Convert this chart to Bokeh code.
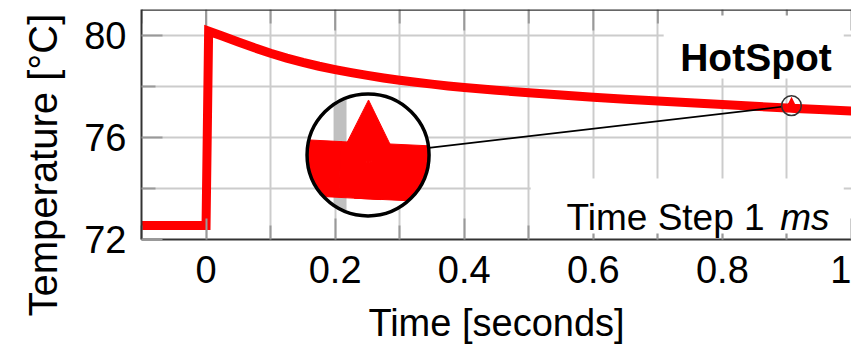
import math

from bokeh.plotting import figure
from bokeh.models import Range1d, FixedTicker, BoxAnnotation, Label, Title, Span
from bokeh.embed import file_html
from bokeh.resources import INLINE

# ---- hotspot temperature trace (1 ms time step) ----
time_s = [-0.1, 0.0, 0.004, 0.025, 0.05, 0.075, 0.1, 0.125, 0.15, 0.175, 0.2,
          0.225, 0.25, 0.275, 0.3, 0.325, 0.35, 0.375, 0.4, 0.45, 0.5, 0.55,
          0.6, 0.65, 0.7, 0.75, 0.8, 0.85, 0.9, 0.906, 0.907, 0.908, 0.95, 1.0]
temp_c = [72.55, 72.55, 80.15, 79.96, 79.73, 79.50, 79.29, 79.10, 78.93, 78.78, 78.65,
          78.53, 78.42, 78.32, 78.23, 78.15, 78.08, 78.01, 77.95, 77.84, 77.74, 77.65,
          77.57, 77.49, 77.42, 77.35, 77.28, 77.21, 77.145, 77.137, 77.187, 77.135, 77.085, 77.03]

x_major = [0.0, 0.2, 0.4, 0.6, 0.8, 1.0]
x_major_labels = ["0", "0.2", "0.4", "0.6", "0.8", "1"]
x_minor = [-0.1, 0.1, 0.3, 0.5, 0.7, 0.9]
y_major = [72, 76, 80]
y_major_labels = ["72", "76", "80"]
y_minor = [74, 78]

FONT = "Liberation Sans"
RED = "#ff0000"
GRID = "#cccccc"
TICK = "#999999"
FRAME = "#333333"
GRID_W = 2
LINE_W = 9
MAJOR_TICK = 21
MINOR_TICK = 14

X0, X1 = -0.1, 1.0
Y0, Y1 = 72.0, 81.0
FW, FH = 710, 230

p = figure(frame_width=FW, frame_height=FH,
           x_range=Range1d(X0, X1), y_range=Range1d(Y0, Y1),
           output_backend="svg", toolbar_location=None,
           min_border_left=141, min_border_right=0,
           min_border_top=9, min_border_bottom=108,
           background_fill_color="white", border_fill_color="white")

# the plot box continues past the right edge, so only three sides are drawn
p.outline_line_color = None

xt = FixedTicker(ticks=x_major, minor_ticks=x_minor)
yt = FixedTicker(ticks=y_major, minor_ticks=y_minor)


def style_axis(ax, ticker):
    ax.ticker = ticker
    ax.axis_line_color = FRAME
    ax.axis_line_width = 2
    ax.major_tick_in = MAJOR_TICK
    ax.major_tick_out = 0
    ax.minor_tick_in = MINOR_TICK
    ax.minor_tick_out = 0
    ax.major_tick_line_color = TICK
    ax.minor_tick_line_color = TICK
    ax.major_tick_line_width = 2
    ax.minor_tick_line_width = 2
    ax.major_label_text_font = FONT
    ax.major_label_text_font_size = "38px"
    ax.major_label_text_color = "black"


style_axis(p.xaxis[0], xt)
style_axis(p.yaxis[0], yt)
p.xaxis[0].major_label_overrides = dict(zip(x_major, x_major_labels))
p.yaxis[0].major_label_overrides = dict(zip(y_major, y_major_labels))
p.xaxis[0].major_label_standoff = 16
p.yaxis[0].major_label_standoff = 15
p.yaxis[0].axis_label_standoff = 0

p.xaxis[0].axis_label = "Time [seconds]"
p.xaxis[0].axis_label_text_font = FONT
p.xaxis[0].axis_label_text_font_size = "38px"
p.xaxis[0].axis_label_text_font_style = "normal"
p.xaxis[0].axis_label_text_color = "black"
p.xaxis[0].axis_label_standoff = 16

# vertical axis title, shifted down along the axis
p.add_layout(Title(text="Temperature [°C]", align="left", vertical_align="bottom",
                   offset=-77, standoff=34,
                   text_font=FONT, text_font_size="40px", text_font_style="normal",
                   text_color="black"), "left")

for g, tk in ((p.xgrid[0], xt), (p.ygrid[0], yt)):
    g.ticker = tk
    g.grid_line_color = GRID
    g.grid_line_width = GRID_W
    g.minor_grid_line_color = GRID
    g.minor_grid_line_width = GRID_W

# top edge of the plot box
p.add_layout(Span(location=Y1, dimension="width", line_color=FRAME, line_width=2.5))

sx = FW / (X1 - X0)
sy = FH / (Y1 - Y0)

# inward ticks along the top edge
top_x = x_major + x_minor
top_len = [MAJOR_TICK] * len(x_major) + [MINOR_TICK] * len(x_minor)
p.segment(x0=top_x, y0=[Y1] * len(top_x), x1=top_x,
          y1=[Y1 - L / sy for L in top_len], line_color=TICK, line_width=2)

# main trace
p.line(time_s, temp_c, line_color=RED, line_width=LINE_W,
       line_join="miter", line_cap="butt")

# ---- magnified view of the glitch ----
MAG = 6.2
R_IN = 61.0                  # radius of the magnifier, px
SPY_T, SPY_TEMP = 0.907, 77.237
INSET_T, INSET_TEMP = 0.251, 75.31


def to_local(t, temp):
    return (MAG * (t - SPY_T) * sx, MAG * (temp - SPY_TEMP) * sy)


def to_data(X, Y):
    return (INSET_T + X / sx, INSET_TEMP + Y / sy)


def clip_poly(subject, clip):
    out = list(subject)
    n = len(clip)
    for i in range(n):
        if not out:
            break
        a, b = clip[i], clip[(i + 1) % n]

        def inside(q):
            return (b[0] - a[0]) * (q[1] - a[1]) - (b[1] - a[1]) * (q[0] - a[0]) >= 0

        def cut(s, e):
            ex, ey = e[0] - s[0], e[1] - s[1]
            cx, cy = b[0] - a[0], b[1] - a[1]
            den = ex * cy - ey * cx
            u = ((a[0] - s[0]) * cy - (a[1] - s[1]) * cx) / den
            return (s[0] + u * ex, s[1] + u * ey)

        inp, out = out, []
        s = inp[-1]
        for e in inp:
            if inside(e):
                if not inside(s):
                    out.append(cut(s, e))
                out.append(e)
            elif inside(s):
                out.append(cut(s, e))
            s = e
    return out


clip_r = R_IN - 1.0
disc = [(clip_r * math.cos(2 * math.pi * k / 180), clip_r * math.sin(2 * math.pi * k / 180))
        for k in range(180)]

# thick stroke of the magnified trace, built from segment quads and miter joins
pts = [to_local(t, v) for t, v in zip(time_s, temp_c)]
half = MAG * LINE_W / 2
pieces, frames = [], []
for a, b in zip(pts[:-1], pts[1:]):
    dx, dy = b[0] - a[0], b[1] - a[1]
    L = math.hypot(dx, dy)
    d = (dx / L, dy / L)
    nrm = (-d[1], d[0])
    frames.append((d, nrm))
    pieces.append([(a[0] + nrm[0] * half, a[1] + nrm[1] * half),
                   (b[0] + nrm[0] * half, b[1] + nrm[1] * half),
                   (b[0] - nrm[0] * half, b[1] - nrm[1] * half),
                   (a[0] - nrm[0] * half, a[1] - nrm[1] * half)])
for i in range(1, len(pts) - 1):
    (d1, n1), (d2, n2) = frames[i - 1], frames[i]
    cross = d1[0] * d2[1] - d1[1] * d2[0]
    if abs(cross) < 1e-12:
        continue
    s = 1.0 if cross < 0 else -1.0
    v = pts[i]
    p1 = (v[0] + s * half * n1[0], v[1] + s * half * n1[1])
    p2 = (v[0] + s * half * n2[0], v[1] + s * half * n2[1])
    dot = n1[0] * n2[0] + n1[1] * n2[1]
    if math.sqrt(2.0 / (1.0 + dot)) <= 10:
        m = (v[0] + s * half * (n1[0] + n2[0]) / (1 + dot),
             v[1] + s * half * (n1[1] + n2[1]) / (1 + dot))
        pieces.append([v, p1, m, p2])
    else:
        pieces.append([v, p1, p2])

# grid lines seen through the magnifier
gw = MAG * GRID_W / 2
strips = []
for gx in x_major + x_minor:
    X = MAG * (gx - SPY_T) * sx
    if abs(X) < R_IN + gw:
        strips.append([(X - gw, -R_IN - 5), (X + gw, -R_IN - 5), (X + gw, R_IN + 5), (X - gw, R_IN + 5)])
for gy in y_major + y_minor:
    Y = MAG * (gy - SPY_TEMP) * sy
    if abs(Y) < R_IN + gw:
        strips.append([(-R_IN - 5, Y - gw), (R_IN + 5, Y - gw), (R_IN + 5, Y + gw), (-R_IN - 5, Y + gw)])


def to_patches(polys):
    xs, ys = [], []
    for poly in polys:
        c = clip_poly(poly, disc)
        if len(c) >= 3:
            dpts = [to_data(X, Y) for X, Y in c]
            xs.append([q[0] for q in dpts])
            ys.append([q[1] for q in dpts])
    return xs, ys


p.scatter([INSET_T], [INSET_TEMP], marker="circle", size=2 * R_IN,
          fill_color="white", line_color=None)
gx_s, gy_s = to_patches(strips)
if gx_s:
    p.patches(gx_s, gy_s, fill_color="#c0c0c0", line_color="#c0c0c0", line_width=0.5)
bx, by = to_patches(pieces)
p.patches(bx, by, fill_color=RED, line_color=RED, line_width=1)
p.scatter([INSET_T], [INSET_TEMP], marker="circle", size=2 * R_IN,
          fill_alpha=0, line_color="black", line_width=3.5)

# spy marker and connecting line
r_small = R_IN / MAG
bxp, byp = INSET_T * sx, INSET_TEMP * sy
sxp, syp = SPY_T * sx, SPY_TEMP * sy
dist = math.hypot(sxp - bxp, syp - byp)
ux, uy = (sxp - bxp) / dist, (syp - byp) / dist
p.segment(x0=[(bxp + ux * R_IN) / sx], y0=[(byp + uy * R_IN) / sy],
          x1=[(sxp - ux * r_small) / sx], y1=[(syp - uy * r_small) / sy],
          line_color="black", line_width=1.6)
p.scatter([SPY_T], [SPY_TEMP], marker="circle", size=2 * r_small,
          fill_alpha=0, line_color="#333333", line_width=1.5)

# text boxes
p.add_layout(BoxAnnotation(left=0.709, right=0.988, bottom=78.30, top=80.77,
                           fill_color="white", fill_alpha=1.0, line_color=None))
p.add_layout(BoxAnnotation(left=0.503, right=0.988, bottom=72.235, top=74.39,
                           fill_color="white", fill_alpha=1.0, line_color=None))

p.add_layout(Label(x=0.852, y=79.133, text="HotSpot", text_font=FONT,
                   text_font_size="39px", text_font_style="bold",
                   text_align="center", text_baseline="alphabetic", text_color="black"))
p.add_layout(Label(x=0.5585, y=72.873, text="Time Step 1", text_font=FONT,
                   text_font_size="37px", text_align="left",
                   text_baseline="alphabetic", text_color="black"))
p.add_layout(Label(x=0.8895, y=72.873, text="ms", text_font=FONT,
                   text_font_size="37px", text_font_style="italic", text_align="left",
                   text_baseline="alphabetic", text_color="black"))

open("out.html", "w").write(file_html(p, INLINE))
